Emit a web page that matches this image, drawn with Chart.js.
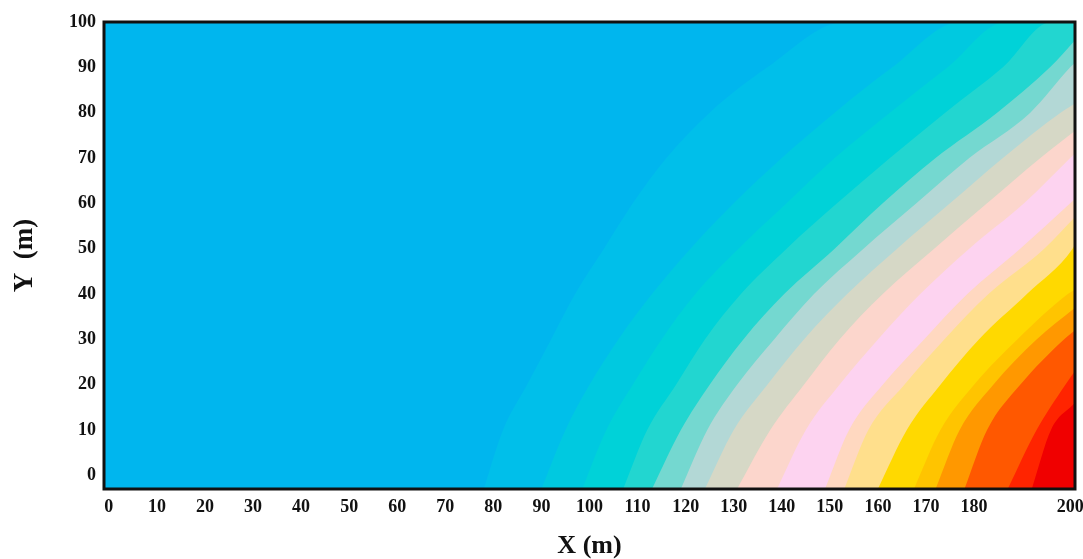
<!DOCTYPE html>
<html>
<head>
<meta charset="utf-8">
<script src="https://cdn.jsdelivr.net/npm/chart.js@4/dist/chart.umd.min.js"></script>
<style>
  html, body { margin: 0; padding: 0; background: #fff; }
  #wrap { width: 1083px; height: 559px; }
</style>
</head>
<body>
<div id="wrap"><canvas id="contour"></canvas></div>
<script>
// tick labels as printed on the figure (190 is missing on the original)
const xTicks = [0, 10, 20, 30, 40, 50, 60, 70, 80, 90, 100, 110, 120, 130, 140, 150, 160, 170, 180, 200];
const yTicks = [0, 10, 20, 30, 40, 50, 60, 70, 80, 90, 100];

// contour band edges [x, y]; each band fills everything to the right of its edge
const deepRedEdge   = [[192, -3], [196, 10], [201, 16]];
const redEdge       = [[187, -3], [193, 10], [199, 20], [201, 23]];
const orangeRedEdge = [[178, -3], [182.7, 10], [189.6, 20], [198.7, 30], [201, 32]];
const orangeEdge    = [[172, -3], [177, 10], [184, 20], [193, 30], [201, 37]];
const goldEdge      = [[167.5, -3], [173, 10], [180, 20], [189, 30], [199.5, 40], [201, 41]];
const yellowEdge    = [[160, -3], [166, 10], [173, 20], [181, 30], [191, 40], [200.5, 50], [201, 51]];
const paleYellowEdge = [[153, -3], [158, 10], [165.5, 20], [173.8, 30], [183, 40], [194.6, 50], [201, 57]];
const palePeachEdge = [[149, -3], [154, 10], [161, 20], [169.6, 30], [178.6, 40], [189.6, 50], [200, 60], [201, 61]];
const pinkEdge      = [[139, -3], [145, 10], [152, 20], [160, 30], [168.8, 40], [179, 50], [190.4, 60], [200, 70], [201, 71]];
const peachEdge     = [[130.7, -3], [137.6, 10], [144.6, 20], [152, 30], [161, 40], [171.7, 50], [182.7, 60], [193.8, 70], [201, 76]];
const beigeEdge     = [[124, -3], [130, 10], [137, 20], [144.6, 30], [153.6, 40], [164, 50], [175, 60], [186, 70], [198, 80], [201, 82]];
const greyCyanEdge  = [[119, -3], [124.5, 10], [130.7, 20], [138.4, 30], [146.7, 40], [157, 50], [168, 60], [179, 70], [191.7, 80], [200, 90], [201, 91]];
const lightTealEdge = [[113, -3], [119, 10], [125, 20], [132, 30], [140.5, 40], [151, 50], [161, 60], [172, 70], [184.8, 80], [195.8, 90], [201, 96]];
const tealEdge      = [[107, -3], [112, 10], [118, 20], [124, 30], [131.5, 40], [141, 50], [151.5, 60], [162.5, 70], [174, 80], [186, 90], [196, 100], [201, 100]];
const aquaEdge      = [[98.5, -3], [103.5, 10], [109, 20], [115, 30], [122, 40], [131, 50], [141, 60], [151, 70], [162.5, 80], [174.5, 90], [186.5, 100], [201, 100]];
const cyanEdge      = [[90, -3], [95, 10], [100, 20], [106, 30], [113, 40], [121, 50], [130, 60], [140, 70], [151, 80], [163, 90], [177, 100], [201, 100]];
const lightBlueEdge = [[78, -3], [82, 10], [87, 20], [92, 30], [97, 40], [103, 50], [109, 60], [116, 70], [125, 80], [137, 90], [153, 100], [201, 100]];
const baseEdge      = [[-1, 100], [201, 100]];

const bandEdges = [deepRedEdge, redEdge, orangeRedEdge, orangeEdge, goldEdge, yellowEdge, paleYellowEdge,
  palePeachEdge, pinkEdge, peachEdge, beigeEdge, greyCyanEdge, lightTealEdge, tealEdge, aquaEdge, cyanEdge, lightBlueEdge, baseEdge];
const bandColors = ['#f00000', '#ff2400', '#ff5800', '#ff9800', '#ffc400', '#ffd900', '#ffdf8c',
  '#ffd8c0', '#fdd3f0', '#fcd6cc', '#d6d8c6', '#b3d8d6', '#74d8d0', '#22d6d0', '#00d2d8', '#00c9e0', '#00bfea', '#00b6ee'];

const serif = "'Liberation Serif', 'DejaVu Serif', serif";

// black frame around the plot
const frame = {
  id: 'frame',
  afterDraw(chart) {
    const a = chart.chartArea, c = chart.ctx;
    c.save();
    c.strokeStyle = '#111';
    c.lineWidth = 3;
    c.strokeRect(a.left, a.top, a.right - a.left, a.bottom - a.top);
    c.restore();
  }
};

new Chart(document.getElementById('contour'), {
  type: 'line',
  data: {
    datasets: bandEdges.map((edge, i) => ({
      data: edge.map(p => ({ x: p[0], y: p[1] })),
      backgroundColor: bandColors[i],
      borderWidth: 0,
      pointRadius: 0,
      cubicInterpolationMode: 'monotone',
      fill: { value: -3 }
    }))
  },
  options: {
    responsive: true,
    maintainAspectRatio: false,
    animation: false,
    layout: { padding: { top: 22, right: 8, left: 0, bottom: 0 } },
    plugins: { legend: { display: false }, tooltip: { enabled: false } },
    scales: {
      x: {
        type: 'linear', min: -1, max: 201,
        grid: { display: false, drawTicks: false },
        border: { display: false },
        afterBuildTicks: s => { s.ticks = xTicks.map(v => ({ value: v })); },
        afterFit: s => { s.height = 70; s.paddingLeft = 0; s.paddingRight = 0; },
        ticks: { autoSkip: false, maxRotation: 0, padding: 8, color: '#111', font: { family: serif, size: 18, weight: 'bold' } },
        title: { display: true, text: 'X (m)', color: '#111', padding: { top: 0, bottom: 0 },
          font: { family: serif, size: 26, weight: 'bold', lineHeight: 1 } }
      },
      y: {
        type: 'linear', min: -3, max: 100,
        grid: { display: false, drawTicks: false },
        border: { display: false },
        afterBuildTicks: s => { s.ticks = yTicks.map(v => ({ value: v })); },
        afterFit: s => { s.width = 104; s.paddingTop = 0; s.paddingBottom = 0; },
        ticks: { autoSkip: false, padding: 8, color: '#111', font: { family: serif, size: 18, weight: 'bold' } },
        title: { display: true, text: 'Y  (m)', color: '#111', padding: { top: 12, bottom: 0 },
          font: { family: serif, size: 27, weight: 'bold', lineHeight: 1 } }
      }
    }
  },
  plugins: [frame]
});
</script>
</body>
</html>
